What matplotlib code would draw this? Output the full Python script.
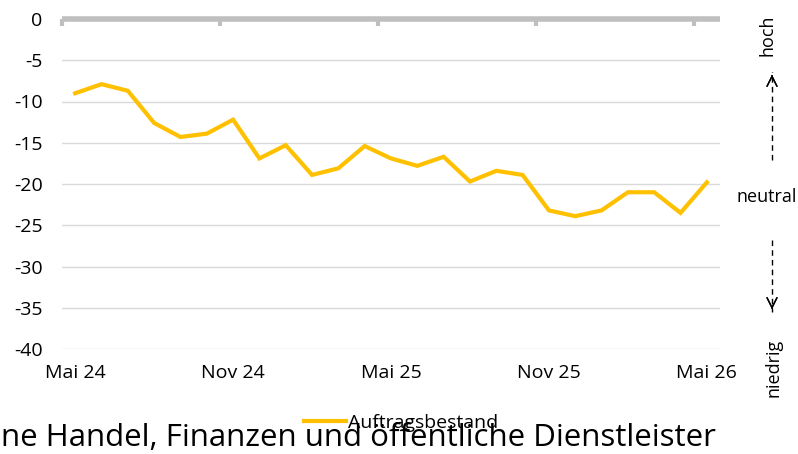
import matplotlib.pyplot as plt
from matplotlib.lines import Line2D

# ===============================
# DATA
# ===============================
months = ["Mai 24", "Jun 24", "Jul 24", "Aug 24", "Sep 24", "Okt 24",
          "Nov 24", "Dez 24", "Jan 25", "Feb 25", "Mrz 25", "Apr 25",
          "Mai 25", "Jun 25", "Jul 25", "Aug 25", "Sep 25", "Okt 25",
          "Nov 25", "Dez 25", "Jan 26", "Feb 26", "Mrz 26", "Apr 26",
          "Mai 26"]
auftragsbestand = [-9.0, -7.9, -8.7, -12.6, -14.3, -13.9, -12.2, -16.9,
                   -15.3, -18.9, -18.1, -15.4, -16.9, -17.8, -16.7, -19.7,
                   -18.4, -18.9, -23.2, -23.9, -23.2, -21.0, -21.0, -23.5,
                   -19.8]
tick_labels = ["Mai 24", "Nov 24", "Mai 25", "Nov 25", "Mai 26"]
title = "ne Handel, Finanzen und öffentliche Dienstleister"

W, H = 798, 454
FONT = "Open Sans"
GOLD = "#FFC000"
GREY = "#BFBFBF"


def fx(px):
    return px / W


def fy(py):
    return 1 - py / H


# ===============================
# FIGURE
# ===============================
plt.rcParams["font.family"] = [FONT, "DejaVu Sans"]
plt.rcParams["axes.unicode_minus"] = False
fig = plt.figure(figsize=(W / 100, H / 100), dpi=100)
ax = fig.add_axes([fx(62), fy(349), fx(720) - fx(62), fy(19) - fy(349)])

x = list(range(len(months)))
ax.plot(x, auftragsbestand, color=GOLD, lw=3, solid_joinstyle="miter",
        label="Auftragsbestand", zorder=3)

ax.set_xlim(-0.5, len(months) - 0.5)
ax.set_ylim(-40, 0)
ax.set_yticks(range(-40, 1, 5))
ax.grid(axis="y", color="#D9D9D9", lw=1)
ax.set_axisbelow(True)
for s in ax.spines.values():
    s.set_visible(False)

# zero line on top with the category ticks hanging down
ax.axhline(0, color=GREY, lw=4, zorder=2, clip_on=False,
           solid_capstyle="butt")
ax.set_xticks([i * 6 for i in range(len(tick_labels))])
ax.set_xticklabels(tick_labels)
ax.set_xticks([-0.5 + i * 6 for i in range(len(tick_labels))], minor=True)
ax.tick_params(axis="x", which="major", length=0, pad=11, labelsize=14)
ax.tick_params(axis="x", which="minor", top=True, bottom=False,
               direction="in", length=5, width=3, color=GREY)
ax.tick_params(axis="y", length=0, pad=14, labelsize=14)

# ===============================
# RIGHT SIDE SCALE
# ===============================
fig.text(fx(767), fy(35), "hoch", rotation=90, ha="center", va="center",
         fontsize=13)
fig.text(fx(767), fy(197), "neutral", ha="center", va="center", fontsize=13)
fig.text(fx(773), fy(368), "niedrig", rotation=90, ha="center", va="center",
         fontsize=13)

for y0, y1 in [(160, 72), (240, 312)]:
    fig.add_artist(Line2D([fx(772), fx(772)], [fy(y0), fy(y1)],
                          color="black", lw=1, ls=(0, (4, 3))))
    tip = fy(y1)
    back = fy(y1 + 8) if y1 < y0 else fy(y1 - 8)
    fig.add_artist(plt.annotate("", xy=(fx(772), tip), xytext=(fx(772), back),
                                xycoords="figure fraction",
                                arrowprops=dict(arrowstyle="->", color="black",
                                                lw=1, mutation_scale=18)))

# ===============================
# LEGEND & TITLE
# ===============================
fig.legend(loc="center", bbox_to_anchor=(fx(401), fy(423)), frameon=False,
           fontsize=14, handlelength=2.2, handletextpad=0.1,
           borderaxespad=0, borderpad=0)
fig.text(fx(1), fy(438), title, ha="left", va="center", fontsize=22.5)

fig.savefig("out.png", dpi=100)
